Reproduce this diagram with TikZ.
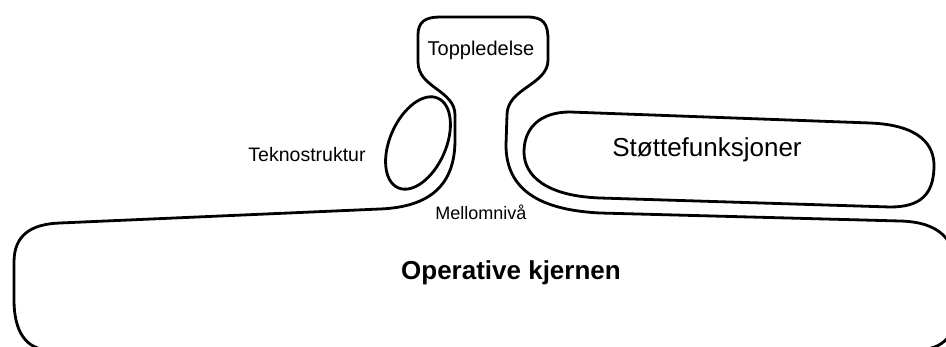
\documentclass[tikz,border=0pt]{standalone}
\usepackage{fontspec}
\setmainfont{Liberation Sans}
\begin{document}
\begin{tikzpicture}[x=1pt,y=1pt,
  outline/.style={draw=black,line width=2.8pt,line join=round,line cap=round},
  lbl/.style={inner sep=0pt,text=black}]
\useasboundingbox (0,0) rectangle (946,-347);
\clip (0,0) rectangle (946,-347);
\fill[white] (0,0) rectangle (946,-347);

% Outer contour: strategic apex, middle line and operating core in one stroke
\draw[outline]
  (440,-17) -- (527,-17)
  .. controls (544,-17) and (548,-24) .. (548,-40) -- (548,-60)
  .. controls (548,-85) and (507,-88) .. (507,-115)
  -- (506,-145)
  .. controls (506,-190) and (540,-210) .. (600,-213)
  -- (900,-221)
  .. controls (940,-222) and (956,-240) .. (956,-272)
  -- (956,-305)
  .. controls (956,-335) and (945,-350) .. (915,-350)
  -- (50,-350)
  .. controls (25,-350) and (14,-330) .. (14,-300)
  -- (14,-262)
  .. controls (14,-236) and (30,-224) .. (60,-223)
  -- (380,-209)
  .. controls (430,-207) and (455,-185) .. (455,-140)
  -- (455,-115)
  .. controls (455,-90) and (418,-88) .. (418,-62)
  -- (418,-35)
  .. controls (418,-22) and (425,-17) .. (440,-17) -- cycle;

% Support staff loop
\draw[outline]
  (570,-112) -- (870,-123)
  .. controls (920,-125) and (935,-145) .. (934,-168)
  .. controls (933,-195) and (920,-207) .. (890,-207)
  -- (600,-198)
  .. controls (545,-196) and (524,-175) .. (524,-152)
  .. controls (524,-128) and (540,-112) .. (570,-112) -- cycle;

% Technostructure
\draw[outline,rotate around={66:(418,-143)}] (418,-143) ellipse [x radius=49, y radius=28];

\node[lbl,font=\fontsize{20}{24}\selectfont] (apex) at (481,-50) {Toppledelse};
\node[lbl,font=\fontsize{19.5}{23}\selectfont] (tekno) at (307,-155) {Teknostruktur};
\node[lbl,font=\fontsize{18}{22}\selectfont] (mid) at (481,-212) {Mellomnivå};
\node[lbl,font=\fontsize{26}{30}\selectfont] (stotte) at (707,-150) {Støttefunksjoner};
\node[lbl,font=\fontsize{26}{30}\selectfont\bfseries] (kjerne) at (511,-273) {Operative kjernen};
\end{tikzpicture}
\end{document}
